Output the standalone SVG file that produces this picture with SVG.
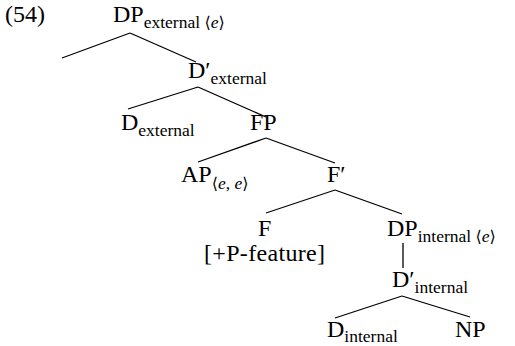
<svg xmlns="http://www.w3.org/2000/svg" width="515" height="346" viewBox="0 0 515 346">
<style>
.t{font-family:"Liberation Serif","DejaVu Serif",serif;font-size:24px;fill:#000}
.s{font-size:17.5px}
.i{font-style:italic}
.b{font-family:"DejaVu Sans",sans-serif;font-size:16px}
.e{stroke:#000;stroke-width:1.3;fill:none}
</style>
<rect width="515" height="346" fill="#fff"/>
<text class="t" x="5" y="22">(54)</text>
<g id="connectors" class="e">
<line x1="130" y1="33" x2="62" y2="58"/>
<line x1="130" y1="33" x2="196" y2="62"/>
<line x1="198" y1="87" x2="128" y2="109"/>
<line x1="198" y1="87" x2="266" y2="117"/>
<line x1="266" y1="138" x2="198" y2="162"/>
<line x1="266" y1="138" x2="335" y2="163"/>
<line x1="335" y1="190" x2="266" y2="213"/>
<line x1="335" y1="190" x2="402" y2="214"/>
<line x1="403" y1="243" x2="403" y2="268"/>
<line x1="402" y1="296" x2="335" y2="318"/>
<line x1="402" y1="296" x2="470" y2="317"/>
</g>
<g id="dp-external"><text class="t" x="113" y="22">DP<tspan class="s" y="28">external </tspan><tspan class="b" y="28">⟨</tspan><tspan class="s i" y="28">e</tspan><tspan class="b" y="28">⟩</tspan></text></g>
<g id="dbar-external"><text class="t" x="188" y="78">D′<tspan class="s" y="84">external</tspan></text></g>
<g id="d-external"><text class="t" x="121" y="130">D<tspan class="s" y="136">external</tspan></text></g>
<g id="fp"><text class="t" x="250" y="130">FP</text></g>
<g id="ap"><text class="t" x="181" y="182">AP<tspan class="b" y="189">⟨</tspan><tspan class="s i" y="189">e</tspan><tspan class="s" y="189">, </tspan><tspan class="s i" y="189">e</tspan><tspan class="b" y="189">⟩</tspan></text></g>
<g id="fbar"><text class="t" x="327" y="182">F′</text></g>
<g id="f"><text class="t" x="258" y="236">F</text><text class="t" x="204" y="261" textLength="121" lengthAdjust="spacing">[+P-feature]</text></g>
<g id="dp-internal"><text class="t" x="387" y="236">DP<tspan class="s" y="242">internal </tspan><tspan class="b" y="242">⟨</tspan><tspan class="s i" y="242">e</tspan><tspan class="b" y="242">⟩</tspan></text></g>
<g id="dbar-internal"><text class="t" x="392" y="287">D′<tspan class="s" y="293">internal</tspan></text></g>
<g id="d-internal"><text class="t" x="327" y="337">D<tspan class="s" y="342">internal</tspan></text></g>
<g id="np"><text class="t" x="455" y="337">NP</text></g>
</svg>
